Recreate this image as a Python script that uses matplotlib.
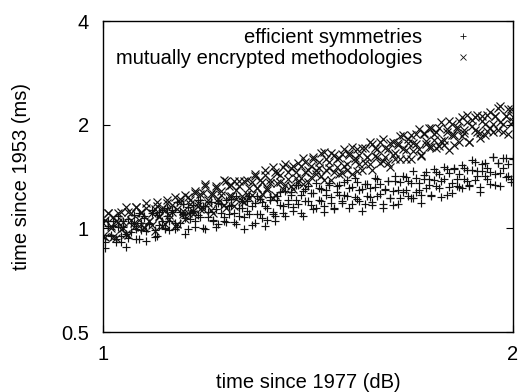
import matplotlib
matplotlib.use("Agg")
import matplotlib.pyplot as plt
from matplotlib.ticker import FixedLocator, FixedFormatter, NullLocator

plt.rcParams['font.family'] = ['Liberation Sans', 'DejaVu Sans']

# x positions (time since 1977, dB), shared by both series
x_vals = [
    1.000, 1.004, 1.009, 1.013, 1.017, 1.022, 1.026, 1.031, 1.035, 1.040,
    1.044, 1.049, 1.053, 1.058, 1.062, 1.067, 1.072, 1.076, 1.081, 1.086,
    1.091, 1.095, 1.100, 1.105, 1.110, 1.114, 1.119, 1.124, 1.129, 1.134,
    1.139, 1.144, 1.149, 1.154, 1.159, 1.164, 1.169, 1.174, 1.179, 1.184,
    1.189, 1.195, 1.200, 1.205, 1.210, 1.215, 1.221, 1.226, 1.231, 1.237,
    1.242, 1.248, 1.253, 1.258, 1.264, 1.270, 1.275, 1.281, 1.286, 1.292,
    1.297, 1.303, 1.309, 1.314, 1.320, 1.326, 1.332, 1.337, 1.343, 1.349,
    1.355, 1.361, 1.367, 1.373, 1.379, 1.385, 1.391, 1.397, 1.403, 1.408,
    1.414, 1.421, 1.427, 1.434, 1.440, 1.446, 1.452, 1.459, 1.465, 1.471,
    1.477, 1.484, 1.490, 1.497, 1.503, 1.510, 1.516, 1.523, 1.530, 1.536,
    1.542, 1.549, 1.556, 1.563, 1.570, 1.576, 1.583, 1.590, 1.597, 1.604,
    1.611, 1.618, 1.625, 1.632, 1.639, 1.646, 1.653, 1.661, 1.668, 1.675,
    1.682, 1.690, 1.697, 1.705, 1.712, 1.720, 1.727, 1.735, 1.742, 1.750,
    1.757, 1.765, 1.772, 1.780, 1.788, 1.795, 1.803, 1.811, 1.819, 1.826,
    1.834, 1.842, 1.850, 1.858, 1.866, 1.875, 1.883, 1.891, 1.899, 1.907,
    1.915, 1.924, 1.932, 1.941, 1.949, 1.958, 1.966, 1.975, 1.983, 1.992,
    2.000,
]

# "efficient symmetries" (+), two runs at the same x positions
efficient_y1 = [
    0.960, 0.911, 1.052, 0.960, 1.017, 0.913, 1.089, 0.953, 1.011, 0.883,
    1.062, 0.977, 1.036, 0.929, 1.110, 0.992, 1.075, 0.922, 1.038, 1.110,
    0.990, 0.948, 1.113, 1.049, 0.995, 1.150, 1.049, 1.113, 0.999, 1.191,
    1.040, 1.103, 0.963, 1.157, 1.064, 1.127, 1.010, 1.206, 1.076, 1.162,
    0.994, 1.116, 1.191, 1.058, 1.011, 1.183, 1.111, 1.052, 1.212, 1.104,
    1.166, 1.045, 1.243, 1.084, 1.147, 0.999, 1.198, 1.100, 1.162, 1.039,
    1.239, 1.103, 1.191, 1.018, 1.149, 1.231, 1.098, 1.054, 1.239, 1.169,
    1.110, 1.285, 1.175, 1.247, 1.122, 1.340, 1.174, 1.247, 1.088, 1.305,
    1.199, 1.269, 1.135, 1.354, 1.207, 1.304, 1.115, 1.254, 1.338, 1.189,
    1.136, 1.330, 1.250, 1.183, 1.363, 1.241, 1.311, 1.175, 1.397, 1.219,
    1.290, 1.125, 1.348, 1.239, 1.310, 1.172, 1.397, 1.245, 1.344, 1.150,
    1.291, 1.377, 1.224, 1.171, 1.374, 1.293, 1.227, 1.417, 1.293, 1.369,
    1.229, 1.465, 1.280, 1.358, 1.186, 1.426, 1.312, 1.391, 1.247, 1.490,
    1.330, 1.439, 1.233, 1.388, 1.484, 1.321, 1.265, 1.483, 1.396, 1.323,
    1.529, 1.394, 1.476, 1.325, 1.581, 1.382, 1.465, 1.280, 1.538, 1.416,
    1.500, 1.345, 1.607, 1.435, 1.552, 1.330, 1.497, 1.600, 1.424, 1.363,
    1.599,
]
efficient_y2 = [
    1.056, 0.877, 1.015, 0.952, 1.052, 0.929, 1.010, 0.916, 1.048, 0.962,
    0.936, 1.039, 1.093, 0.996, 0.929, 1.034, 1.090, 0.982, 1.027, 1.134,
    0.943, 1.092, 1.023, 1.133, 1.000, 1.089, 0.987, 1.130, 1.038, 1.009,
    1.119, 1.176, 1.071, 0.998, 1.110, 1.167, 1.050, 1.097, 1.210, 1.002,
    1.158, 1.082, 1.194, 1.052, 1.142, 1.032, 1.178, 1.080, 1.047, 1.161,
    1.218, 1.108, 1.030, 1.143, 1.201, 1.078, 1.124, 1.238, 1.024, 1.182,
    1.104, 1.218, 1.073, 1.164, 1.056, 1.212, 1.115, 1.087, 1.208, 1.274,
    1.163, 1.087, 1.212, 1.278, 1.153, 1.207, 1.335, 1.110, 1.283, 1.200,
    1.324, 1.167, 1.267, 1.146, 1.308, 1.199, 1.164, 1.290, 1.354, 1.232,
    1.146, 1.273, 1.338, 1.202, 1.253, 1.381, 1.143, 1.321, 1.234, 1.362,
    1.199, 1.302, 1.176, 1.343, 1.230, 1.194, 1.322, 1.388, 1.261, 1.174,
    1.303, 1.369, 1.229, 1.284, 1.418, 1.177, 1.363, 1.276, 1.412, 1.245,
    1.355, 1.228, 1.403, 1.289, 1.253, 1.392, 1.463, 1.334, 1.243, 1.383,
    1.455, 1.309, 1.369, 1.510, 1.254, 1.451, 1.359, 1.502, 1.326, 1.442,
    1.307, 1.495, 1.372, 1.334, 1.481, 1.558, 1.419, 1.323, 1.472, 1.549,
    1.394, 1.457, 1.608, 1.335, 1.545, 1.446, 1.599, 1.412, 1.535, 1.390,
    1.590,
]

# "mutually encrypted methodologies" (x), two runs at the same x positions
mutual_y1 = [
    1.040, 0.943, 1.111, 1.003, 1.078, 0.938, 1.046, 1.113, 1.002, 0.965,
    1.116, 1.057, 1.008, 1.151, 1.059, 1.117, 1.012, 1.189, 1.051, 1.110,
    0.982, 1.161, 1.077, 1.135, 1.029, 1.209, 1.091, 1.172, 1.019, 1.140,
    1.218, 1.101, 1.064, 1.235, 1.174, 1.124, 1.287, 1.189, 1.258, 1.142,
    1.342, 1.188, 1.255, 1.112, 1.314, 1.220, 1.288, 1.167, 1.373, 1.240,
    1.334, 1.160, 1.293, 1.375, 1.239, 1.192, 1.380, 1.307, 1.247, 1.423,
    1.311, 1.382, 1.255, 1.474, 1.309, 1.384, 1.229, 1.456, 1.355, 1.433,
    1.302, 1.536, 1.389, 1.497, 1.305, 1.457, 1.553, 1.402, 1.349, 1.560,
    1.478, 1.410, 1.609, 1.481, 1.562, 1.418, 1.665, 1.474, 1.557, 1.379,
    1.630, 1.513, 1.597, 1.447, 1.703, 1.537, 1.653, 1.438, 1.602, 1.703,
    1.534, 1.476, 1.707, 1.616, 1.541, 1.758, 1.618, 1.706, 1.547, 1.817,
    1.608, 1.697, 1.503, 1.780, 1.655, 1.749, 1.588, 1.870, 1.691, 1.822,
    1.587, 1.771, 1.886, 1.701, 1.639, 1.897, 1.800, 1.719, 1.963, 1.809,
    1.910, 1.735, 2.041, 1.808, 1.911, 1.695, 2.006, 1.863, 1.968, 1.786,
    2.103, 1.898, 2.043, 1.778, 1.983, 2.109, 1.901, 1.830, 2.117, 2.006,
    1.913, 2.185, 2.011, 2.122, 1.926, 2.263, 2.004, 2.115, 1.875, 2.216,
    2.058,
]
mutual_y2 = [
    0.949, 1.055, 1.111, 1.013, 0.945, 1.052, 1.109, 0.998, 1.044, 1.154,
    0.958, 1.110, 1.040, 1.151, 1.017, 1.106, 1.002, 1.146, 1.051, 1.023,
    1.135, 1.194, 1.088, 1.014, 1.128, 1.187, 1.068, 1.116, 1.232, 1.027,
    1.195, 1.124, 1.248, 1.107, 1.209, 1.100, 1.264, 1.165, 1.137, 1.264,
    1.330, 1.213, 1.132, 1.260, 1.327, 1.195, 1.250, 1.381, 1.147, 1.328,
    1.245, 1.377, 1.216, 1.324, 1.201, 1.374, 1.263, 1.229, 1.366, 1.437,
    1.311, 1.223, 1.362, 1.434, 1.295, 1.357, 1.503, 1.250, 1.452, 1.363,
    1.512, 1.339, 1.460, 1.326, 1.520, 1.400, 1.364, 1.518, 1.598, 1.457,
    1.360, 1.514, 1.594, 1.436, 1.502, 1.659, 1.378, 1.596, 1.495, 1.655,
    1.461, 1.590, 1.442, 1.649, 1.515, 1.474, 1.637, 1.722, 1.570, 1.465,
    1.630, 1.716, 1.546, 1.616, 1.784, 1.481, 1.716, 1.607, 1.778, 1.569,
    1.708, 1.548, 1.770, 1.629, 1.588, 1.766, 1.861, 1.699, 1.588, 1.770,
    1.866, 1.683, 1.763, 1.949, 1.621, 1.880, 1.764, 1.954, 1.727, 1.882,
    1.708, 1.957, 1.799, 1.752, 1.949, 2.052, 1.873, 1.749, 1.949, 2.054,
    1.852, 1.937, 2.141, 1.778, 2.061, 1.932, 2.138, 1.890, 2.057, 1.866,
    2.135, 1.962, 1.909, 2.122, 2.233, 2.036, 1.901, 2.115, 2.229, 2.007,
    2.100,
]

fs = 14.5

fig = plt.figure(figsize=(5.30, 3.92), dpi=100)
ax = fig.add_axes([0.1943, 0.153, 0.7737, 0.793])

ax.plot(x_vals + x_vals, efficient_y1 + efficient_y2, linestyle='none',
        marker='+', markersize=6, markeredgewidth=0.85, color='#111111',
        label='efficient symmetries')
ax.plot(x_vals + x_vals, mutual_y1 + mutual_y2, linestyle='none',
        marker='x', markersize=5.5, markeredgewidth=0.85, color='#111111',
        label='mutually encrypted methodologies')

ax.set_xscale('log')
ax.set_yscale('log')
ax.set_xlim(1, 2)
ax.set_ylim(0.5, 4)

ax.xaxis.set_major_locator(FixedLocator([1, 2]))
ax.xaxis.set_major_formatter(FixedFormatter(['1', '2']))
ax.xaxis.set_minor_locator(NullLocator())
ax.yaxis.set_major_locator(FixedLocator([0.5, 1, 2, 4]))
ax.yaxis.set_major_formatter(FixedFormatter(['0.5', '1', '2', '4']))
ax.yaxis.set_minor_locator(NullLocator())

ax.tick_params(direction='in', length=5, width=0.8, labelsize=fs,
               top=True, right=True)
ax.tick_params(axis='x', pad=9)
ax.tick_params(axis='y', pad=10)
for sp in ax.spines.values():
    sp.set_linewidth(1.0)

ax.set_xlabel('time since 1977 (dB)', fontsize=fs, labelpad=7)
ax.set_ylabel('time since 1953 (ms)', fontsize=fs, labelpad=22)

leg = ax.legend(loc='upper right', bbox_to_anchor=(0.912, 0.99), frameon=False,
                markerfirst=False, fontsize=fs, handlelength=1.0,
                handletextpad=1.5, labelspacing=0.1, borderaxespad=0.0,
                borderpad=0.2)
for h in leg.legend_handles:
    h.set_markersize(4)
    h.set_markeredgewidth(0.6)

fig.savefig('out.png', dpi=100)
